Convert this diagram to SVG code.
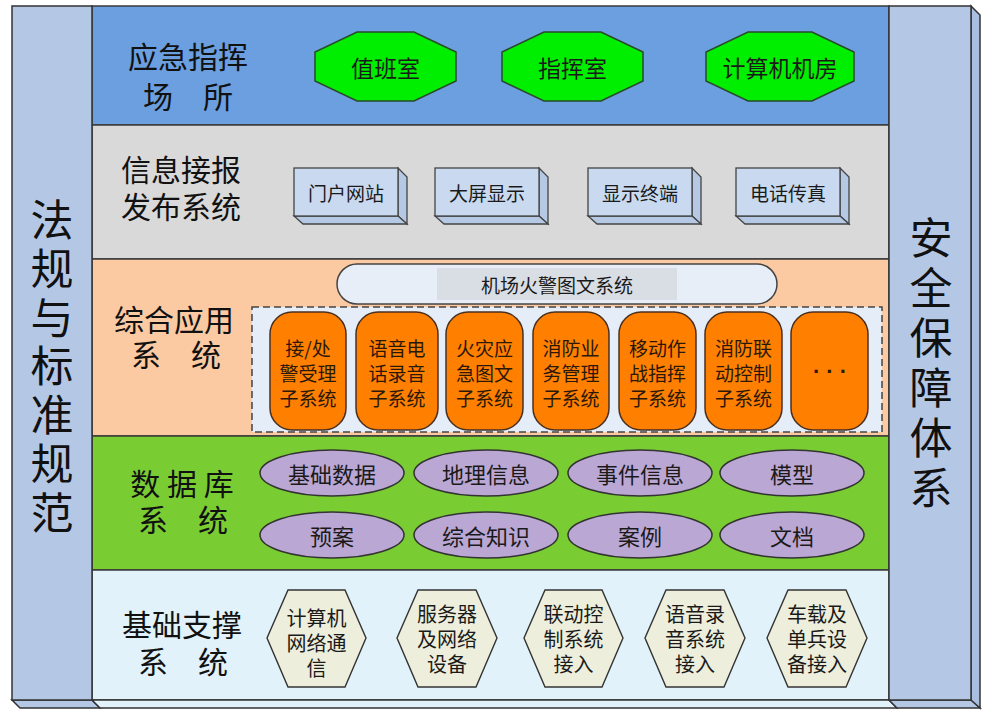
<svg xmlns="http://www.w3.org/2000/svg" width="989" height="720" viewBox="0 0 989 720">
<style>
text{font-family:"Noto Sans CJK SC","Noto Sans",sans-serif;text-anchor:middle;dominant-baseline:central;fill:#1a1a1a}
.ln{stroke:#3a3a3a;stroke-width:1.5}
.col{fill:#b4c8e6;stroke:#333;stroke-width:1.5}
.big{font-size:43px;fill:#111;writing-mode:vertical-rl}
.lbl{font-size:30px;fill:#111}
.oct{fill:#00ee00;stroke:#2a4a2a;stroke-width:1.5}
.octt{font-size:23px}
.bf{fill:#c9daf0;stroke:#444;stroke-width:1.3}
.bs{fill:#b6c9e4;stroke:#444;stroke-width:1.3}
.bt{font-size:19px}
.org{fill:#ff7f00;stroke:#4a3020;stroke-width:1.5}
.ot{font-size:19px;fill:#2a1808}
.ell{fill:#bba7d4;stroke:#333;stroke-width:1.5}
.et{font-size:22px}
.hex{fill:#eeeedc;stroke:#333;stroke-width:1.4}
.ht{font-size:20px}
</style>
<rect width="989" height="720" fill="#ffffff"/>

<!-- layers -->
<g id="layer-command">
<rect x="92" y="6" width="797" height="119" fill="#6b9fe0" class="ln"/>
<text class="lbl"><tspan x="188" y="55">应急指挥</tspan><tspan x="188" y="95">场　所</tspan></text>
</g>
<g id="layer-info">
<rect x="92" y="125" width="797" height="134" fill="#d9d9d9" class="ln"/>
<text class="lbl"><tspan x="181" y="168">信息接报</tspan><tspan x="181" y="205">发布系统</tspan></text>
</g>
<g id="layer-app">
<rect x="92" y="259" width="797" height="177" fill="#fbcaa2" class="ln"/>
<text class="lbl"><tspan x="174" y="318">综合应用</tspan><tspan x="176" y="353">系　统</tspan></text>
</g>
<g id="layer-db">
<rect x="92" y="436" width="797" height="134" fill="#7acc33" class="ln"/>
<text class="lbl" xml:space="preserve"><tspan x="182" y="482">数 据 库</tspan><tspan x="183" y="518">系　统</tspan></text>
</g>
<g id="layer-base">
<rect x="92" y="570" width="797" height="130" fill="#e1f2fa" class="ln"/>
<text class="lbl"><tspan x="182" y="623">基础支撑</tspan><tspan x="183" y="660">系　统</tspan></text>
</g>

<!-- side columns and 3D faces -->
<g id="bottom-face">
<polygon points="12,700 92,700 100,708 20,708" class="col"/>
<polygon points="92,700 889,700 897,708 100,708" fill="#e1f2fa" stroke="#333" stroke-width="1.5"/>
<polygon points="889,700 971,700 980,708 897,708" class="col"/>
<polygon points="971,6 980,15 980,708 971,700" fill="#a9bfe0" stroke="#333" stroke-width="1.5"/>
</g>
<g id="law-column">
<rect x="12" y="6" width="80" height="694" class="col"/>
<text class="big" x="52" y="369" style="letter-spacing:5.7px">法规与标准规范</text>
</g>
<g id="security-column">
<rect x="889" y="6" width="82" height="694" class="col"/>
<text class="big" x="931" y="366" style="letter-spacing:7px">安全保障体系</text>
</g>

<!-- layer 1 nodes -->
<g id="duty-room">
<polygon class="oct" points="357,32 414,32 456,52 456,81 414,101 357,101 315,81 315,52"/>
<text class="octt" x="385.5" y="67">值班室</text>
</g>
<g id="command-room">
<polygon class="oct" points="544,32 601,32 643,52 643,81 601,101 544,101 502,81 502,52"/>
<text class="octt" x="572.5" y="67">指挥室</text>
</g>
<g id="computer-room">
<polygon class="oct" points="748,32 812,32 854,52 854,81 812,101 748,101 706,81 706,52"/>
<text class="octt" x="780" y="67">计算机机房</text>
</g>

<!-- layer 2 nodes -->
<g id="portal">
<polygon class="bs" points="398,168 407,177 407,224 398,216"/>
<polygon class="bs" points="294,216 398,216 407,224 303,224"/>
<rect class="bf" x="294" y="168" width="104" height="48"/>
<text class="bt" x="346" y="192">门户网站</text>
</g>
<g id="big-screen">
<polygon class="bs" points="539,168 548,177 548,224 539,216"/>
<polygon class="bs" points="435,216 539,216 548,224 444,224"/>
<rect class="bf" x="435" y="168" width="104" height="48"/>
<text class="bt" x="487" y="192">大屏显示</text>
</g>
<g id="terminal">
<polygon class="bs" points="692,168 701,177 701,224 692,216"/>
<polygon class="bs" points="588,216 692,216 701,224 597,224"/>
<rect class="bf" x="588" y="168" width="104" height="48"/>
<text class="bt" x="640" y="192">显示终端</text>
</g>
<g id="phone-fax">
<polygon class="bs" points="840,168 849,177 849,224 840,216"/>
<polygon class="bs" points="736,216 840,216 849,224 745,224"/>
<rect class="bf" x="736" y="168" width="104" height="48"/>
<text class="bt" x="788" y="192">电话传真</text>
</g>

<!-- layer 3 nodes -->
<g id="fire-gis">
<rect x="337" y="264" width="440" height="40" rx="20" fill="#e7eef8" stroke="#444" stroke-width="1.5"/>
<rect x="437" y="268" width="240" height="32" fill="#d9dee5"/>
<text x="557" y="284" style="font-size:19px">机场火警图文系统</text>
</g>
<g id="subsystems">
<rect x="252" y="307" width="630" height="125" fill="#e5edf8" stroke="#444" stroke-width="1.5" stroke-dasharray="7,4"/>
<g id="sub-alarm">
<rect class="org" x="270" y="312" width="76" height="118" rx="22"/>
<text class="ot"><tspan x="308" y="347">接/处</tspan><tspan x="308" y="372">警受理</tspan><tspan x="308" y="397">子系统</tspan></text>
</g>
<g id="sub-voice">
<rect class="org" x="356" y="312" width="82" height="118" rx="22"/>
<text class="ot"><tspan x="397" y="347">语音电</tspan><tspan x="397" y="372">话录音</tspan><tspan x="397" y="397">子系统</tspan></text>
</g>
<g id="sub-gis">
<rect class="org" x="446" y="312" width="77" height="118" rx="22"/>
<text class="ot"><tspan x="484.5" y="347">火灾应</tspan><tspan x="484.5" y="372">急图文</tspan><tspan x="484.5" y="397">子系统</tspan></text>
</g>
<g id="sub-business">
<rect class="org" x="533" y="312" width="76" height="118" rx="22"/>
<text class="ot"><tspan x="571" y="347">消防业</tspan><tspan x="571" y="372">务管理</tspan><tspan x="571" y="397">子系统</tspan></text>
</g>
<g id="sub-mobile">
<rect class="org" x="619" y="312" width="77" height="118" rx="22"/>
<text class="ot"><tspan x="657.5" y="347">移动作</tspan><tspan x="657.5" y="372">战指挥</tspan><tspan x="657.5" y="397">子系统</tspan></text>
</g>
<g id="sub-linkage">
<rect class="org" x="705" y="312" width="77" height="118" rx="22"/>
<text class="ot"><tspan x="743.5" y="347">消防联</tspan><tspan x="743.5" y="372">动控制</tspan><tspan x="743.5" y="397">子系统</tspan></text>
</g>
<g id="sub-more">
<rect class="org" x="791" y="312" width="77" height="118" rx="22"/>
<text x="830" y="371" xml:space="preserve" style="font-family:'Liberation Sans',sans-serif;font-size:22px;font-weight:bold;fill:#2a1808">· · ·</text>
</g>
</g>

<!-- layer 4 nodes -->
<g id="db-basic"><ellipse class="ell" cx="332" cy="473" rx="72" ry="23"/><text class="et" x="332" y="473">基础数据</text></g>
<g id="db-geo"><ellipse class="ell" cx="486" cy="473" rx="72" ry="23"/><text class="et" x="486" y="473">地理信息</text></g>
<g id="db-event"><ellipse class="ell" cx="640" cy="473" rx="72" ry="23"/><text class="et" x="640" y="473">事件信息</text></g>
<g id="db-model"><ellipse class="ell" cx="792" cy="473" rx="72" ry="23"/><text class="et" x="792" y="473">模型</text></g>
<g id="db-plan"><ellipse class="ell" cx="332" cy="535" rx="72" ry="23"/><text class="et" x="332" y="535">预案</text></g>
<g id="db-knowledge"><ellipse class="ell" cx="486" cy="535" rx="72" ry="23"/><text class="et" x="486" y="535">综合知识</text></g>
<g id="db-case"><ellipse class="ell" cx="640" cy="535" rx="72" ry="23"/><text class="et" x="640" y="535">案例</text></g>
<g id="db-doc"><ellipse class="ell" cx="792" cy="535" rx="72" ry="23"/><text class="et" x="792" y="535">文档</text></g>

<!-- layer 5 nodes -->
<g id="hx-network">
<polygon class="hex" points="288,590 345,590 366,638 345,687 288,687 267,638"/>
<text class="ht"><tspan x="316.5" y="617">计算机</tspan><tspan x="316.5" y="642">网络通</tspan><tspan x="316.5" y="667">信</tspan></text>
</g>
<g id="hx-server">
<polygon class="hex" points="418,590 476,590 497,638 476,687 418,687 397,638"/>
<text class="ht"><tspan x="447" y="613">服务器</tspan><tspan x="447" y="638">及网络</tspan><tspan x="447" y="663">设备</tspan></text>
</g>
<g id="hx-linkage">
<polygon class="hex" points="545,590 602,590 623,638 602,687 545,687 524,638"/>
<text class="ht"><tspan x="573.5" y="613">联动控</tspan><tspan x="573.5" y="638">制系统</tspan><tspan x="573.5" y="663">接入</tspan></text>
</g>
<g id="hx-voice">
<polygon class="hex" points="666,590 724,590 745,638 724,687 666,687 645,638"/>
<text class="ht"><tspan x="695" y="613">语音录</tspan><tspan x="695" y="638">音系统</tspan><tspan x="695" y="663">接入</tspan></text>
</g>
<g id="hx-vehicle">
<polygon class="hex" points="788,590 846,590 867,638 846,687 788,687 767,638"/>
<text class="ht"><tspan x="817" y="613">车载及</tspan><tspan x="817" y="638">单兵设</tspan><tspan x="817" y="663">备接入</tspan></text>
</g>

<g id="connectors"></g>
</svg>
